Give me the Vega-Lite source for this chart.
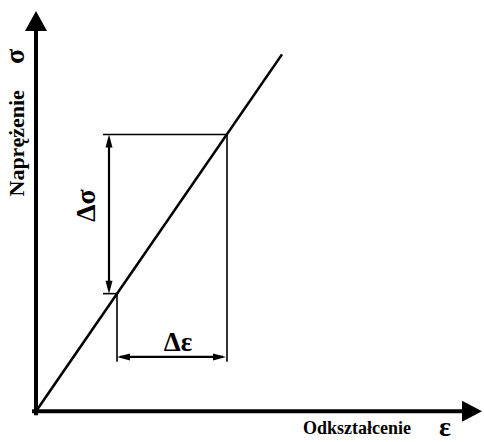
{
  "$schema": "https://vega.github.io/schema/vega-lite/v6.json",
  "width": 484,
  "height": 442,
  "autosize": {"type": "fit", "contains": "padding"},
  "padding": 0,
  "background": "white",
  "config": {"view": {"stroke": null}},
  "datasets": {
    "segments": [
      {"part": "axis", "x": -2, "y": 0, "x2": 436, "y2": 0},
      {"part": "axis", "x": 0, "y": -2, "x2": 0, "y2": 396},
      {"part": "curve", "x": 0, "y": 0, "x2": 246, "y2": 361},
      {"part": "guide", "x": 67, "y": 280, "x2": 191, "y2": 280},
      {"part": "guide", "x": 67, "y": 119, "x2": 81, "y2": 119},
      {"part": "guide", "x": 81, "y": 119, "x2": 81, "y2": 50},
      {"part": "guide", "x": 191, "y": 280, "x2": 191, "y2": 50},
      {"part": "dimension", "x": 73, "y": 276, "x2": 73, "y2": 123},
      {"part": "dimension", "x": 84, "y": 55, "x2": 187, "y2": 55}
    ],
    "tips": [
      {"dir": "axis-up", "x": 0, "y": 405},
      {"dir": "axis-right", "x": 446, "y": 0},
      {"dir": "up", "x": 73, "y": 280},
      {"dir": "down", "x": 73, "y": 119},
      {"dir": "left", "x": 81, "y": 55},
      {"dir": "right", "x": 190, "y": 55}
    ],
    "labels": [
      {"role": "delta", "text": "Δε", "x": 142, "y": 69},
      {"role": "title", "text": "Odkształcenie", "x": 321, "y": -18},
      {"role": "symbol", "text": "ε", "x": 409, "y": -17}
    ],
    "vlabels": [
      {"role": "delta", "text": "Δσ", "x": 51, "y": 208},
      {"role": "title", "text": "Naprężenie", "x": -19, "y": 271},
      {"role": "symbol", "text": "σ", "x": -20, "y": 359}
    ]
  },
  "encoding": {
    "x": {"field": "x", "type": "quantitative", "scale": {"domain": [-36, 448], "nice": false, "zero": false}, "axis": null},
    "y": {"field": "y", "type": "quantitative", "scale": {"domain": [-26, 416], "nice": false, "zero": false}, "axis": null}
  },
  "layer": [
    {
      "data": {"name": "segments"},
      "transform": [{"filter": "datum.part === 'axis'"}],
      "mark": {"type": "rule", "color": "black", "strokeWidth": 4, "strokeCap": "square"},
      "encoding": {"x2": {"field": "x2"}, "y2": {"field": "y2"}}
    },
    {
      "data": {"name": "segments"},
      "transform": [{"filter": "datum.part === 'curve'"}],
      "mark": {"type": "rule", "color": "black", "strokeWidth": 2.6},
      "encoding": {"x2": {"field": "x2"}, "y2": {"field": "y2"}}
    },
    {
      "data": {"name": "segments"},
      "transform": [{"filter": "datum.part === 'guide'"}],
      "mark": {"type": "rule", "color": "black", "strokeWidth": 1.6},
      "encoding": {"x2": {"field": "x2"}, "y2": {"field": "y2"}}
    },
    {
      "data": {"name": "segments"},
      "transform": [{"filter": "datum.part === 'dimension'"}],
      "mark": {"type": "rule", "color": "black", "strokeWidth": 2.2},
      "encoding": {"x2": {"field": "x2"}, "y2": {"field": "y2"}}
    },
    {
      "data": {"name": "tips"},
      "mark": {"type": "point", "filled": true, "color": "black", "opacity": 1, "size": 100, "strokeWidth": 0},
      "encoding": {
        "shape": {
          "field": "dir",
          "type": "nominal",
          "legend": null,
          "scale": {
            "domain": ["axis-up", "axis-right", "up", "down", "left", "right"],
            "range": [
              "M0,0L2.2,4L-2.2,4Z",
              "M0,0L-4,2.1L-4,-2.1Z",
              "M0,0L0.7,2.6L-0.7,2.6Z",
              "M0,0L0.7,-2.6L-0.7,-2.6Z",
              "M0,0L2.6,0.7L2.6,-0.7Z",
              "M0,0L-2.6,0.7L-2.6,-0.7Z"
            ]
          }
        }
      }
    },
    {
      "data": {"name": "labels"},
      "transform": [{"filter": "datum.role === 'delta'"}],
      "mark": {"type": "text", "font": "Liberation Serif", "fontWeight": "bold", "fontSize": 27, "color": "black", "align": "center", "baseline": "middle"},
      "encoding": {"text": {"field": "text"}}
    },
    {
      "data": {"name": "labels"},
      "transform": [{"filter": "datum.role === 'title'"}],
      "mark": {"type": "text", "font": "Liberation Serif", "fontWeight": "bold", "fontSize": 18, "color": "black", "align": "center", "baseline": "middle"},
      "encoding": {"text": {"field": "text"}}
    },
    {
      "data": {"name": "labels"},
      "transform": [{"filter": "datum.role === 'symbol'"}],
      "mark": {"type": "text", "font": "Liberation Serif", "fontWeight": "bold", "fontSize": 28, "color": "black", "align": "center", "baseline": "middle"},
      "encoding": {"text": {"field": "text"}}
    },
    {
      "data": {"name": "vlabels"},
      "transform": [{"filter": "datum.role === 'delta'"}],
      "mark": {"type": "text", "font": "Liberation Serif", "fontWeight": "bold", "fontSize": 28, "color": "black", "align": "center", "baseline": "middle", "angle": 270},
      "encoding": {"text": {"field": "text"}}
    },
    {
      "data": {"name": "vlabels"},
      "transform": [{"filter": "datum.role === 'title'"}],
      "mark": {"type": "text", "font": "Liberation Serif", "fontWeight": "bold", "fontSize": 22, "color": "black", "align": "center", "baseline": "middle", "angle": 270},
      "encoding": {"text": {"field": "text"}}
    },
    {
      "data": {"name": "vlabels"},
      "transform": [{"filter": "datum.role === 'symbol'"}],
      "mark": {"type": "text", "font": "Liberation Serif", "fontWeight": "bold", "fontSize": 28, "color": "black", "align": "center", "baseline": "middle", "angle": 270},
      "encoding": {"text": {"field": "text"}}
    }
  ]
}
